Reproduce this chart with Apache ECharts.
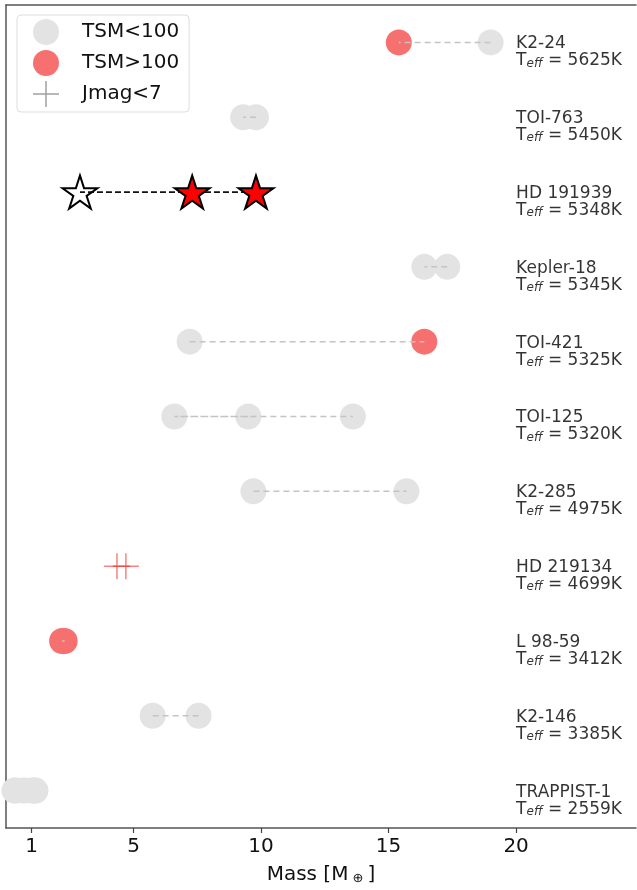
<!DOCTYPE html>
<html>
<head>
<meta charset="utf-8">
<script src="https://cdn.jsdelivr.net/npm/echarts@6/dist/echarts.min.js"></script>
<style>
  html, body { margin: 0; padding: 0; background: #fff; }
  #chart { width: 637px; height: 890px; }
</style>
</head>
<body>
<div id="chart"></div>
<script>
// Planetary systems, one row each (top to bottom)
const systemNames = ['K2-24', 'TOI-763', 'HD 191939', 'Kepler-18', 'TOI-421', 'TOI-125',
  'K2-285', 'HD 219134', 'L 98-59', 'K2-146', 'TRAPPIST-1'];
const hostTeff = [5625, 5450, 5348, 5345, 5325, 5320, 4975, 4699, 3412, 3385, 2559];

// Planet masses [Earth masses], in planet order within each system
const planetMass = [
  [19.0, 15.4],
  [9.8, 9.3],
  [9.8, 7.3, 2.9],
  [17.3, 16.4],
  [7.2, 16.4],
  [9.5, 6.6, 13.6],
  [9.7, 15.7],
  [4.7, 4.35],
  [2.3, 2.2],
  [5.75, 7.55],
  [1.15, 1.1, 0.4, 0.7, 1.0, 1.15, 0.33]
];
// 1 = transmission spectroscopy metric above 100
const tsmAbove100 = [
  [0, 1], [0, 0], [1, 1, 0], [0, 0], [0, 1], [0, 0, 0], [0, 0], [1, 1], [1, 1], [0, 0],
  [0, 0, 0, 0, 0, 0, 0]
];
// 1 = bright host star (J magnitude below 7)
const jmagBelow7 = [0, 0, 0, 0, 0, 0, 0, 1, 0, 0, 0];
// System highlighted with star markers
const highlightRow = 2;

const massTicks = [1, 5, 10, 15, 20];
const labelColumnMass = 20;
const massRange = [0, 24.7];

const GRAY = '#e3e3e3';
const RED = '#f77070';
const FONT = 'DejaVu Sans';
const FRAME = { color: '#555', width: 1.5 };

const starPath = 'path://M50,0L61.17,34.63L97.55,34.55L68.07,55.87L79.39,90.45L50,69L20.61,90.45L31.93,55.87L2.45,34.55L38.83,34.63Z';
const plusPath = 'path://M0,12.25H26V13.75H0Z M12.25,0H13.75V26H12.25Z';

const grayPts = [], redPts = [], crossPts = [], starFilled = [], starHollow = [];
planetMass.forEach((masses, row) => {
  masses.forEach((m, i) => {
    const hot = tsmAbove100[row][i] === 1;
    const p = [m, row];
    if (row === highlightRow) (hot ? starFilled : starHollow).push(p);
    else if (jmagBelow7[row]) crossPts.push(p);
    else (hot ? redPts : grayPts).push(p);
  });
});

// Dashed connectors between the planets of a system
const lineSeries = planetMass
  .map((masses, row) => ({ masses, row }))
  .filter(d => d.masses.length > 1 && !jmagBelow7[d.row] && d.row !== 10)
  .map(({ masses, row }) => ({
    type: 'line',
    name: 'link-' + row,
    data: masses.map(m => [m, row]),
    showSymbol: false,
    symbol: 'none',
    silent: true,
    z: row === highlightRow ? 3 : 5,
    lineStyle: row === highlightRow
      ? { color: '#111', width: 1.8, type: [6, 3] }
      : { color: '#c4c4c4', width: 1.5, type: [6, 4] }
  }));

const labelPts = systemNames.map((name, row) => ({
  value: [labelColumnMass, row],
  label: {
    formatter: '{n|' + name + '}\n{t|T}{s|eff}{t| = ' + hostTeff[row] + 'K}'
  }
}));

const chart = echarts.init(document.getElementById('chart'), null, { renderer: 'canvas' });
chart.setOption({
  animation: false,
  backgroundColor: '#fff',
  grid: { left: 6, top: 5, right: 1, bottom: 60, show: false },
  legend: {
    left: 17, top: 15,
    orient: 'vertical',
    selectedMode: false,
    backgroundColor: '#fff',
    borderColor: '#ddd', borderWidth: 1, borderRadius: 4,
    padding: [4, 10, 5, 16],
    itemWidth: 26, itemHeight: 26, itemGap: 5,
    textStyle: { fontFamily: FONT, fontSize: 20, color: '#111', padding: [0, 0, 0, 18] },
    data: [
      { name: 'TSM<100', icon: 'circle' },
      { name: 'TSM>100', icon: 'circle' },
      { name: 'Jmag<7', icon: plusPath, itemStyle: { color: '#8a8a8a' } }
    ]
  },
  xAxis: [
    {
      type: 'value',
      min: massRange[0], max: massRange[1],
      name: '{a|Mass [M}{b| ⊕ }{a|]}',
      nameLocation: 'middle',
      nameGap: 37,
      nameTextStyle: {
        rich: {
          a: { fontFamily: FONT, fontSize: 20, color: '#111' },
          b: { fontFamily: FONT, fontSize: 13, color: '#111', verticalAlign: 'bottom', lineHeight: 10 }
        }
      },
      axisLine: { show: true, onZero: false, lineStyle: FRAME },
      axisTick: { show: true, length: 5, lineStyle: { color: '#444', width: 1.2 }, customValues: massTicks },
      axisLabel: { fontFamily: FONT, fontSize: 20, color: '#111', margin: 9, customValues: massTicks },
      splitLine: { show: false }
    },
    {
      type: 'value',
      position: 'top',
      min: massRange[0], max: massRange[1],
      axisLine: { show: true, onZero: false, lineStyle: FRAME },
      axisTick: { show: false },
      axisLabel: { show: false },
      splitLine: { show: false }
    }
  ],
  yAxis: {
    type: 'value',
    min: -0.5, max: 10.5,
    inverse: true,
    axisLine: { show: true, onZero: false, lineStyle: FRAME },
    axisTick: { show: false },
    axisLabel: { show: false },
    splitLine: { show: false }
  },
  series: [
    {
      type: 'scatter', name: 'TSM<100', data: grayPts, symbol: 'circle', symbolSize: 26, z: 2,
      itemStyle: { color: GRAY, opacity: 1 }
    },
    {
      type: 'scatter', name: 'TSM>100', data: redPts, symbol: 'circle', symbolSize: 26, z: 2,
      itemStyle: { color: RED, opacity: 1 }
    },
    {
      type: 'scatter', name: 'Jmag<7', data: crossPts, symbol: plusPath, symbolSize: 26, z: 2,
      itemStyle: { color: 'rgba(240,20,20,0.65)' }
    },
    ...lineSeries,
    {
      type: 'scatter', name: 'star-hot', data: starFilled, symbol: starPath, symbolSize: [35, 33], z: 6,
      itemStyle: { color: '#ff0000', borderColor: '#000', borderWidth: 2, opacity: 1 }
    },
    {
      type: 'scatter', name: 'star-cool', data: starHollow, symbol: starPath, symbolSize: [35, 33], z: 6,
      itemStyle: { color: 'rgba(255,255,255,0)', borderColor: '#000', borderWidth: 2, opacity: 1 }
    },
    {
      type: 'scatter', name: 'system-labels', data: labelPts, symbolSize: 0, silent: true, z: 7,
      label: {
        show: true,
        position: 'right',
        distance: 0,
        offset: [0, 10],
        align: 'left',
        color: '#000',
        rich: {
          n: { fontFamily: FONT, fontSize: 17, lineHeight: 17, color: '#000' },
          t: { fontFamily: FONT, fontSize: 17, lineHeight: 17, color: '#000' },
          s: { fontFamily: FONT, fontSize: 12, lineHeight: 8, fontStyle: 'italic', color: '#000', verticalAlign: 'bottom' }
        }
      }
    }
  ]
});
</script>
</body>
</html>
